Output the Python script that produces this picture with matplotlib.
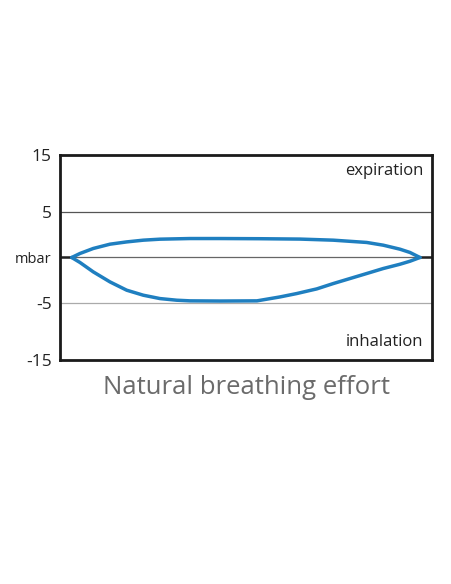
import numpy as np
import matplotlib.pyplot as plt

plt.rcParams['font.family'] = ['Open Sans', 'DejaVu Sans']

# breathing loop, x in % of cycle, y in mbar
exp_x = [3.15, 5.38, 8.95, 13.44, 17.93, 22.39, 26.88, 34.95, 43.01, 53.76, 64.52,
         73.47, 82.45, 86.91, 91.40, 94.09, 96.77]
exp_y = [0.0, 0.44, 0.99, 1.46, 1.71, 1.90, 2.01, 2.08, 2.08, 2.06, 2.02,
         1.90, 1.65, 1.35, 0.91, 0.55, 0.0]
inh_x = [3.15, 5.38, 8.95, 13.44, 17.93, 22.39, 26.88, 31.37, 34.95, 43.01, 52.96,
         59.14, 63.63, 67.20, 69.01, 73.47, 77.96, 82.45, 86.91, 91.40, 94.09, 96.77]
inh_y = [0.0, -0.55, -1.58, -2.68, -3.59, -4.14, -4.51, -4.69, -4.76, -4.78, -4.76,
         -4.33, -3.96, -3.62, -3.45, -2.86, -2.31, -1.76, -1.21, -0.74, -0.41, 0.0]

tick_pos = [-11.25, -5, 0, 5, 11.25]
tick_lbl = ['-15', '-5', 'mbar', '5', '15']

fig = plt.figure(figsize=(4.52, 5.84), dpi=100)
ax = fig.add_axes([0.1327, 0.3836, 0.823, 0.351])

ax.axhline(5, color='#555555', lw=0.9, zorder=1)
ax.axhline(0, color='#666666', lw=0.9, zorder=1)
ax.axhline(-5, color='#aaaaaa', lw=0.9, zorder=1)
# dark stubs of zero line outside the loop
ax.plot([0, exp_x[0]], [0, 0], color='#222222', lw=1.8, zorder=2)
ax.plot([exp_x[-1], 100], [0, 0], color='#222222', lw=1.8, zorder=2)

for xs, ys in [(exp_x, exp_y), (inh_x, inh_y)]:
    ax.plot(xs, ys, color='#1f7fc0', lw=2.5, solid_joinstyle='round',
            solid_capstyle='round', zorder=3)

ax.set_xlim(0, 100)
ax.set_ylim(-11.25, 11.25)
ax.set_xticks([])
ax.set_yticks(tick_pos)
ax.set_yticklabels(tick_lbl)
ax.tick_params(axis='y', length=0, pad=6, colors='#222222')
for lbl in ax.get_yticklabels():
    lbl.set_fontsize(10.5 if lbl.get_text() == 'mbar' else 12.5)
for s in ax.spines.values():
    s.set_linewidth(2)
    s.set_color('#1a1a1a')

ax.text(0.977, 0.922, 'expiration', transform=ax.transAxes, ha='right', va='center',
        fontsize=12, color='#222222')
ax.text(0.977, 0.088, 'inhalation', transform=ax.transAxes, ha='right', va='center',
        fontsize=12, color='#222222')

fig.text(0.545, 1 - 387 / 584, 'Natural breathing effort', ha='center', va='center',
         fontsize=18.5, color='#6b6b6b')

fig.savefig('out.png', dpi=100)
